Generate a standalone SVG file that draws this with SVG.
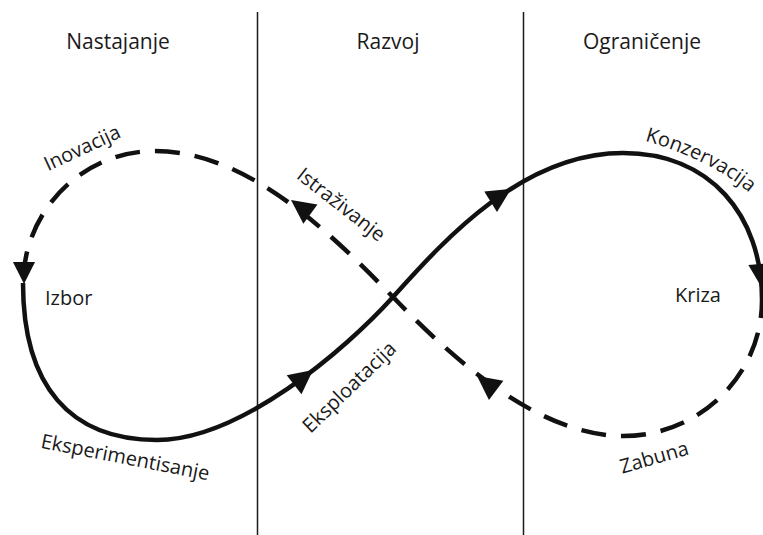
<svg xmlns="http://www.w3.org/2000/svg" xmlns:xlink="http://www.w3.org/1999/xlink" width="763" height="535" viewBox="0 0 763 535">
<style>
.bg{fill:#ffffff}
.divider{stroke:#1a1a1a;stroke-width:1.5;fill:none}
.solid{stroke:#111;stroke-width:4.5;fill:none;stroke-linecap:butt}
.dashed{stroke:#111;stroke-width:4.5;fill:none;stroke-dasharray:25 15;stroke-dashoffset:7}
.arrow{fill:#111}
.lbl{font-family:"Open Sans","Liberation Sans",sans-serif;font-size:20px;fill:#1a1a1a}
.hdr{font-family:"Open Sans","Liberation Sans",sans-serif;font-size:21px;fill:#1a1a1a;text-anchor:middle}
.mid{text-anchor:middle}
</style>
<defs>
<path id="ah" d="M0,0 L-24,-12 L-24,12 Z"/>
<path id="konzPath" d="M645,141 C678,150 730,170 762,205"/>
</defs>
<rect class="bg" x="0" y="0" width="763" height="535"/>
<g id="phases">
<line class="divider" x1="257.5" y1="12" x2="257.5" y2="535"/>
<line class="divider" x1="523.5" y1="12" x2="523.5" y2="535"/>
<text class="hdr" x="118" y="49">Nastajanje</text>
<text class="hdr" x="388" y="49">Razvoj</text>
<text class="hdr" x="642" y="49">Ograničenje</text>
</g>
<g id="connectors">
<path class="solid" d="M23,283 C23,386 70,440 157,440 C240,440 345,350 393,297 C440,245 520,153 623,153 C710,153 762,215 762,300"/>
<path class="dashed" d="M762,300 C762,375 700,436 623,436 C535,436 446,352 393,297 C335,238 250,151 155,151 C82,151 23,211 23,285"/>
<use class="arrow" xlink:href="#ah" href="#ah" transform="translate(24,284) rotate(90) scale(0.92)"/>
<use class="arrow" xlink:href="#ah" href="#ah" transform="translate(313,370) rotate(-38)"/>
<use class="arrow" xlink:href="#ah" href="#ah" transform="translate(511,189) rotate(-32)"/>
<use class="arrow" xlink:href="#ah" href="#ah" transform="translate(762,288) rotate(86)"/>
<use class="arrow" xlink:href="#ah" href="#ah" transform="translate(477,376) rotate(217)"/>
<use class="arrow" xlink:href="#ah" href="#ah" transform="translate(291,200) rotate(216)"/>
</g>
<g id="izbor"><text class="lbl" x="45" y="305">Izbor</text></g>
<g id="kriza"><text class="lbl" x="675" y="302">Kriza</text></g>
<g id="inovacija"><text class="lbl mid" transform="translate(85,154) rotate(-25)">Inovacija</text></g>
<g id="istrazivanje"><text class="lbl mid" transform="translate(337,210) rotate(38)">Istraživanje</text></g>
<g id="konzervacija"><text class="lbl"><textPath xlink:href="#konzPath" href="#konzPath">Konzervacija</textPath></text></g>
<g id="zabuna"><text class="lbl mid" transform="translate(656,464) rotate(-16)">Zabuna</text></g>
<g id="eksperimentisanje"><text class="lbl mid" transform="translate(124,464) rotate(11)">Eksperimentisanje</text></g>
<g id="eksploatacija"><text class="lbl mid" transform="translate(354,392) rotate(-44)">Eksploatacija</text></g>
</svg>
